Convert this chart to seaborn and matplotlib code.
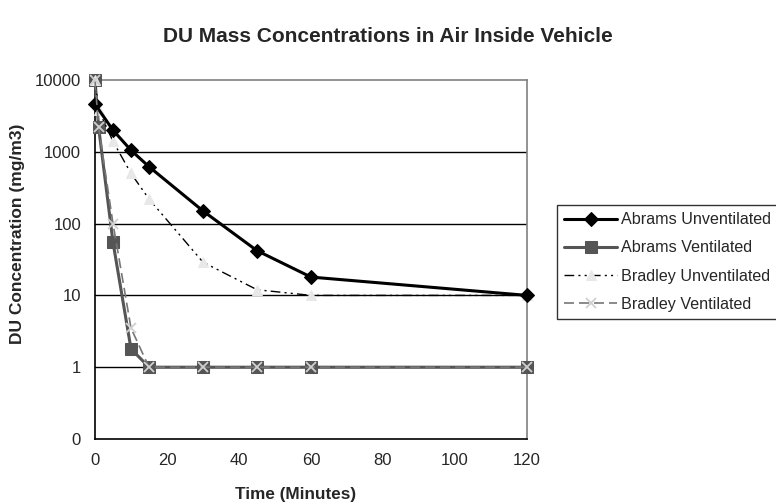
import numpy as np
import pandas as pd
import matplotlib
matplotlib.use('Agg')
import matplotlib.pyplot as plt
import matplotlib.ticker as mticker
import seaborn as sns

# --- DATA ---
t_abrams_unv = [0, 5, 10, 15, 30, 45, 60, 120]
abrams_unv   = [4600, 2000, 1050, 620, 150, 42, 18, 10]

t_abrams_ven = [0, 1, 5, 10, 15, 30, 45, 60, 120]
abrams_ven   = [10000, 2200, 55, 1.8, 1, 1, 1, 1, 1]

t_bradley_unv = [0, 1, 5, 10, 15, 30, 45, 60, 120]
bradley_unv   = [10000, 3800, 1400, 500, 220, 29, 12, 10, 10]

t_bradley_ven = [0, 1, 5, 10, 15, 30, 45, 60, 120]
bradley_ven   = [10000, 2200, 100, 3.5, 1, 1, 1, 1, 1]

Y_TICKS  = [0.1, 1, 10, 100, 1000, 10000]
Y_LABELS = ['0', '1', '10', '100', '1000', '10000']
X_TICKS  = [0, 20, 40, 60, 80, 100, 120]

sns.set_style('white')
plt.rcParams['font.family'] = ['Liberation Sans', 'DejaVu Sans']

fig = plt.figure(figsize=(7.76, 5.04), dpi=100)
ax = fig.add_axes([95 / 776, 1 - 439 / 504, (527 - 95) / 776, (439 - 80) / 504])

# Abrams Unventilated - solid black, black diamonds
sns.lineplot(x=t_abrams_unv, y=abrams_unv, ax=ax, color='black', lw=2.2,
             marker='D', markersize=7, markeredgecolor='black', clip_on=False,
             label='Abrams Unventilated', errorbar=None, sort=False, zorder=4)
# Abrams Ventilated - solid dark gray, gray squares
sns.lineplot(x=t_abrams_ven, y=abrams_ven, ax=ax, color='#555555', lw=2.2,
             marker='s', markersize=8, markeredgecolor='#555555', clip_on=False,
             label='Abrams Ventilated', errorbar=None, sort=False, zorder=3)
# Bradley Unventilated - black dash-dot-dot, light triangles
sns.lineplot(x=t_bradley_unv, y=bradley_unv, ax=ax, color='black', lw=1,
             linestyle=(0, (7, 3, 1.5, 3, 1.5, 3)),
             marker='^', markersize=7, markerfacecolor='#e8e8e8',
             markeredgecolor='#e8e8e8', clip_on=False,
             label='Bradley Unventilated', errorbar=None, sort=False, zorder=3)
# Bradley Ventilated - gray dashed, light x markers
sns.lineplot(x=t_bradley_ven, y=bradley_ven, ax=ax, color='#777777', lw=1.2,
             linestyle=(0, (6, 3)),
             marker='x', markersize=7, markeredgewidth=1.3,
             markeredgecolor='#d0d0d0', clip_on=False,
             label='Bradley Ventilated', errorbar=None, sort=False, zorder=5)

ax.set_yscale('log')
ax.set_ylim(0.1, 10000)
ax.set_xlim(0, 120)
ax.yaxis.set_major_locator(mticker.FixedLocator(Y_TICKS))
ax.yaxis.set_major_formatter(mticker.FixedFormatter(Y_LABELS))
ax.yaxis.set_minor_locator(mticker.NullLocator())
ax.set_xticks(X_TICKS)

for y in Y_TICKS[1:-1]:
    ax.axhline(y, color='black', lw=1, zorder=1)

ax.spines['left'].set_color('black')
ax.spines['bottom'].set_color('black')
ax.spines['top'].set_color('#808080')
ax.spines['right'].set_color('#808080')
for s in ax.spines.values():
    s.set_linewidth(1.2)

ax.tick_params(axis='both', direction='out', length=5, width=1,
               color='black', labelsize=12, pad=5)

ax.set_xlabel('Time (Minutes)', fontsize=12.3, fontweight='bold')
ax.set_ylabel('DU Concentration (mg/m3)', fontsize=12.5, fontweight='bold')
ax.xaxis.set_label_coords((296 - 95) / 432, (439 - 487) / 359)
ax.yaxis.set_label_coords((25 - 95) / 432, (439 - 234) / 359)
fig.text(0.5, 1 - 36 / 504, 'DU Mass Concentrations in Air Inside Vehicle',
         ha='center', va='center', fontsize=15, fontweight='bold')

leg = ax.legend(loc='upper left', bbox_to_anchor=(557 / 776, 1 - 205 / 504),
                bbox_transform=fig.transFigure, frameon=True, fancybox=False,
                edgecolor='black', fontsize=11.6, handlelength=3.3,
                borderpad=0.45, labelspacing=0.82, handletextpad=0.25,
                borderaxespad=0)
leg.get_frame().set_linewidth(1)

fig.savefig('out.png', dpi=100, facecolor='white')
